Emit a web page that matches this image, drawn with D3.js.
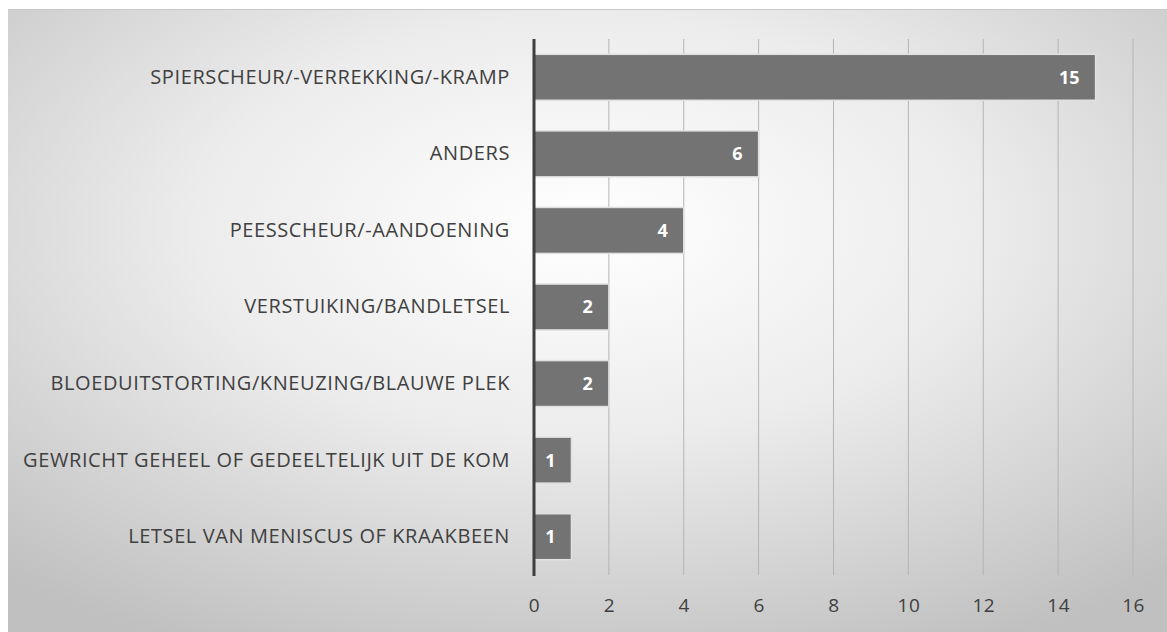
<!DOCTYPE html>
<html>
<head>
<meta charset="utf-8">
<script src="https://cdn.jsdelivr.net/npm/d3@7"></script>
<style>
  html, body { margin: 0; padding: 0; background: #fff; }
  svg { display: block; }
</style>
</head>
<body>
<script>
// chart data
const categories = [
  'SPIERSCHEUR/-VERREKKING/-KRAMP',
  'ANDERS',
  'PEESSCHEUR/-AANDOENING',
  'VERSTUIKING/BANDLETSEL',
  'BLOEDUITSTORTING/KNEUZING/BLAUWE PLEK',
  'GEWRICHT GEHEEL OF GEDEELTELIJK UIT DE KOM',
  'LETSEL VAN MENISCUS OF KRAAKBEEN'
];
const values = [15, 6, 4, 2, 2, 1, 1];
const xTicks = [0, 2, 4, 6, 8, 10, 12, 14, 16];

const WIDTH = 1167, HEIGHT = 632;
const FONT = '"Open Sans", Carlito, sans-serif';
const margin = { left: 534, right: 34, top: 39, bottom: 57 };

const svg = d3.select('body')
  .append('svg')
  .attr('width', WIDTH)
  .attr('height', HEIGHT);

// background gradient like the office chart style
const defs = svg.append('defs');
const grad = defs.append('radialGradient')
  .attr('id', 'bg')
  .attr('cx', '50%').attr('cy', '35%').attr('r', '75%');
grad.append('stop').attr('offset', '0%').attr('stop-color', '#ffffff');
grad.append('stop').attr('offset', '45%').attr('stop-color', '#ececec');
grad.append('stop').attr('offset', '100%').attr('stop-color', '#c0c0c0');

svg.append('rect')
  .attr('x', 8).attr('y', 9)
  .attr('width', WIDTH - 8).attr('height', HEIGHT - 9)
  .attr('fill', 'url(#bg)');
svg.append('line')
  .attr('x1', 8).attr('x2', WIDTH)
  .attr('y1', 9.5).attr('y2', 9.5)
  .attr('stroke', '#c8c8c8');

const x = d3.scaleLinear()
  .domain([0, 16])
  .range([margin.left, WIDTH - margin.right]);

const y = d3.scaleBand()
  .domain(categories)
  .range([margin.top, HEIGHT - margin.bottom])
  .paddingInner(0.4)
  .paddingOuter(0.2);

// vertical gridlines
svg.append('g')
  .attr('class', 'grid')
  .selectAll('line')
  .data(xTicks.slice(1))
  .enter()
  .append('line')
  .attr('x1', d => x(d)).attr('x2', d => x(d))
  .attr('y1', margin.top).attr('y2', HEIGHT - margin.bottom)
  .attr('stroke', '#b4b4b4')
  .attr('stroke-width', 1);

// bars
svg.append('g')
  .attr('class', 'bars')
  .selectAll('rect')
  .data(values)
  .enter()
  .append('rect')
  .attr('x', x(0))
  .attr('y', (d, i) => y(categories[i]))
  .attr('width', d => x(d) - x(0))
  .attr('height', y.bandwidth())
  .attr('fill', '#737373')
  .attr('stroke', '#e0e0e0')
  .attr('stroke-width', 1.5);

// value labels
svg.append('g')
  .attr('class', 'values')
  .selectAll('text')
  .data(values)
  .enter()
  .append('text')
  .attr('x', d => x(d) - 16)
  .attr('y', (d, i) => y(categories[i]) + y.bandwidth() / 2)
  .attr('dy', '0.36em')
  .attr('text-anchor', 'end')
  .attr('fill', '#ffffff')
  .attr('font-family', FONT)
  .attr('font-weight', 'bold')
  .attr('font-size', 18)
  .text(d => d);

// category axis
const yAxis = svg.append('g')
  .attr('transform', `translate(${x(0)},0)`)
  .call(d3.axisLeft(y).tickSize(0).tickPadding(24));
yAxis.select('.domain').remove();
yAxis.selectAll('text')
  .attr('fill', '#404040')
  .attr('font-family', FONT)
  .attr('font-size', 20)
  .attr('letter-spacing', 0.6);

svg.append('line')
  .attr('x1', x(0)).attr('x2', x(0))
  .attr('y1', margin.top).attr('y2', HEIGHT - margin.bottom + 1)
  .attr('stroke', '#3f3f3f')
  .attr('stroke-width', 3);

// value axis
const xAxis = svg.append('g')
  .attr('transform', `translate(0,${HEIGHT - margin.bottom})`)
  .call(d3.axisBottom(x).tickValues(xTicks).tickSize(0).tickPadding(24));
xAxis.select('.domain').remove();
xAxis.selectAll('text')
  .attr('fill', '#404040')
  .attr('font-family', FONT)
  .attr('font-size', 19)
  .attr('letter-spacing', 0.5);
</script>
</body>
</html>
